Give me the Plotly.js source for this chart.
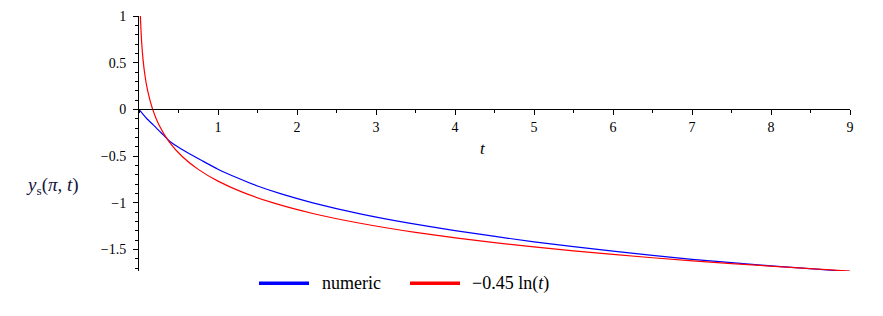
<!DOCTYPE html>
<html>
<head>
<meta charset="utf-8">
<script src="https://cdn.plot.ly/plotly-3.0.1.min.js"></script>
<style>html,body{margin:0;padding:0;background:#fff;}#chart{width:883px;height:316px;}</style>
</head>
<body>
<div id="chart"></div>
<script>
// Numeric solution y_s(pi, t)
const numericT = [0, 0.05, 0.1, 0.18, 0.28, 0.38, 0.5, 0.65, 0.8, 1, 1.25, 1.5, 1.8, 2.2, 2.8, 3.4, 4, 5, 6, 7, 8, 9];
const numericY = [0, -0.05, -0.1, -0.165, -0.25, -0.335, -0.405, -0.48, -0.55, -0.64, -0.735, -0.82, -0.905, -1.0, -1.118, -1.215, -1.298, -1.418, -1.518, -1.605, -1.675, -1.736];

// Log approximation curve
const logT = [0.0176, 0.025, 0.035, 0.05, 0.075, 0.11, 0.173, 0.25, 0.38, 0.55, 0.75, 1, 1.3, 1.7, 2.2, 2.8, 3.5, 4.5, 5.5, 6.5, 7.5, 9];
const logY = [1.0, 0.847, 0.700, 0.544, 0.366, 0.198, 0, -0.161, -0.345, -0.507, -0.642, -0.768, -0.883, -1.001, -1.114, -1.219, -1.317, -1.427, -1.515, -1.588, -1.651, -1.731];

const xTickVals = [1, 2, 3, 4, 5, 6, 7, 8, 9];
const yTickVals = [-1.5, -1, -0.5, 0, 0.5, 1];
const seriesNames = ["numeric", "\u22120.45 ln(<i>t</i>)"];
const xTitle = "<i>t</i>";
const yTitle = "<i>y</i><sub>s</sub>(<i>\u03c0</i>, <i>t</i>)";

const yMin = -1.73, yMax = 1.0;
const serif = "Liberation Serif";

const traces = [
  {x: numericT, y: numericY, mode: "lines", name: seriesNames[0], line: {color: "#0000ff", width: 1.2, shape: "spline", smoothing: 0.6}, showlegend: false, hoverinfo: "skip"},
  {x: logT, y: logY, mode: "lines", name: seriesNames[1], line: {color: "#ff0000", width: 1.2, shape: "spline", smoothing: 0.6}, showlegend: false, hoverinfo: "skip"}
];

const legY = (270.7 - 283) / 254.7;

const layout = {
  width: 883, height: 316,
  margin: {l: 139, r: 33, t: 16, b: 45.3},
  paper_bgcolor: "#fff", plot_bgcolor: "#fff",
  showlegend: false,
  font: {family: serif, color: "#000", size: 14},
  xaxis: {
    range: [0, 9], anchor: "free", position: (0 - yMin) / (yMax - yMin),
    showgrid: false, zeroline: false, showline: true, linecolor: "#000", linewidth: 1,
    tickmode: "array", tickvals: xTickVals, ticks: "outside", ticklen: 5, tickcolor: "#000", tickwidth: 1,
    tickfont: {family: serif, size: 14, color: "#000"},
    minor: {dtick: 0.5, ticks: "outside", ticklen: 3, tickcolor: "#000", tickwidth: 1, showgrid: false}
  },
  yaxis: {
    range: [yMin, yMax],
    showgrid: false, zeroline: false, showline: true, linecolor: "#000", linewidth: 1,
    tickmode: "array", tickvals: yTickVals, ticks: "outside", ticklen: 5, tickcolor: "#000", tickwidth: 1,
    ticklabelstandoff: 4,
    tickfont: {family: serif, size: 14, color: "#000"},
    minor: {dtick: 0.1, tick0: 0, ticks: "outside", ticklen: 3, tickcolor: "#000", tickwidth: 1, showgrid: false}
  },
  shapes: [
    {type: "line", xref: "paper", yref: "paper", x0: (259 - 139) / 711, x1: (309 - 139) / 711, y0: legY, y1: legY, line: {color: "#0000ff", width: 3.5}},
    {type: "line", xref: "paper", yref: "paper", x0: (410 - 139) / 711, x1: (460 - 139) / 711, y0: legY, y1: legY, line: {color: "#ff0000", width: 3.5}}
  ],
  annotations: [
    {text: xTitle, x: 4.35, y: -0.415, xref: "x", yref: "y", xanchor: "center", yanchor: "middle", showarrow: false, font: {family: serif, size: 17, color: "#000"}},
    {text: yTitle, x: (52 - 139) / 711, y: (270.7 - 186) / 254.7, xref: "paper", yref: "paper", xanchor: "center", yanchor: "middle", showarrow: false, font: {family: serif, size: 19, color: "#14143c"}},
    {text: seriesNames[0], x: (320 - 139) / 711, y: legY, xref: "paper", yref: "paper", xanchor: "left", yanchor: "middle", showarrow: false, font: {family: serif, size: 18, color: "#000"}},
    {text: seriesNames[1], x: (470 - 139) / 711, y: legY, xref: "paper", yref: "paper", xanchor: "left", yanchor: "middle", showarrow: false, font: {family: serif, size: 18, color: "#000"}}
  ]
};

Plotly.newPlot("chart", traces, layout, {staticPlot: true, displayModeBar: false});
</script>
</body>
</html>
